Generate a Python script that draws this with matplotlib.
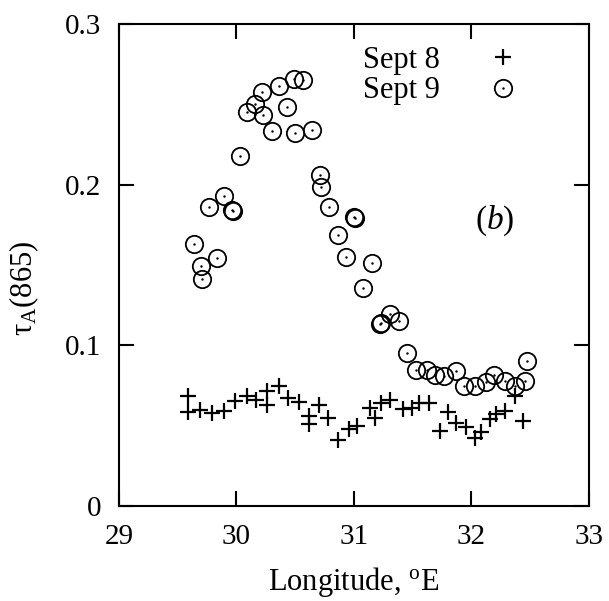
import matplotlib
matplotlib.use('Agg')
import matplotlib.pyplot as plt
from matplotlib.legend_handler import HandlerTuple

plt.rcParams['font.family'] = ['Liberation Serif', 'DejaVu Serif']
plt.rcParams['mathtext.fontset'] = 'custom'
plt.rcParams['mathtext.rm'] = 'Liberation Serif'
plt.rcParams['mathtext.it'] = 'Liberation Serif:italic'

# Sept 8 (crosses)
lon8 = [29.59, 29.59, 29.69, 29.79, 29.89, 29.99, 30.09, 30.17, 30.26, 30.26,
        30.36, 30.44, 30.53, 30.62, 30.62, 30.70, 30.78, 30.86, 30.96, 31.03,
        31.14, 31.18, 31.23, 31.31, 31.42, 31.49, 31.55, 31.64, 31.73, 31.80,
        31.87, 31.95, 32.03, 32.08, 32.16, 32.21, 32.29, 32.37, 32.44]
tau8 = [0.0686, 0.0586, 0.0598, 0.0579, 0.0592, 0.0654, 0.0681, 0.0661, 0.0717, 0.0629,
        0.0744, 0.0669, 0.0645, 0.0561, 0.0511, 0.0629, 0.0546, 0.0408, 0.0479, 0.0498,
        0.0609, 0.0546, 0.0640, 0.0661, 0.0604, 0.0611, 0.0640, 0.0640, 0.0463, 0.0586,
        0.0515, 0.0489, 0.0421, 0.0461, 0.0542, 0.0573, 0.0588, 0.0681, 0.0525]

# Sept 9 (circles)
lon9 = [30.49, 30.57, 30.36, 30.22, 30.16, 30.09, 30.23, 30.43, 30.30, 30.50,
        30.64, 30.03, 30.71, 30.72, 29.89, 29.77, 29.96, 29.97, 30.79, 31.00,
        31.005, 30.86, 29.64, 30.93, 29.83, 31.15, 29.70, 29.71, 31.08, 31.31,
        31.23, 31.225, 31.38, 31.45, 32.47, 31.53, 31.62, 31.69, 31.77, 31.87,
        31.94, 32.03, 32.12, 32.19, 32.29, 32.37, 32.46]
tau9 = [0.2660, 0.2650, 0.2615, 0.2578, 0.2504, 0.2453, 0.2431, 0.2481, 0.2331, 0.2321,
        0.2342, 0.2175, 0.2061, 0.1988, 0.1931, 0.1859, 0.1844, 0.1838, 0.1863, 0.1796,
        0.1790, 0.1686, 0.1629, 0.1546, 0.1542, 0.1509, 0.1492, 0.1411, 0.1354, 0.1194,
        0.1140, 0.1134, 0.1153, 0.0950, 0.0900, 0.0848, 0.0848, 0.0817, 0.0806, 0.0838,
        0.0744, 0.0748, 0.0771, 0.0811, 0.0779, 0.0748, 0.0775]

fig = plt.figure(figsize=(6.09, 6.01), dpi=100)
ax = fig.add_axes([0.1954, 0.1586, 0.7716, 0.8014])

h8, = ax.plot(lon8, tau8, '+', color='black', markersize=11, markeredgewidth=1.6)
h9, = ax.plot(lon9, tau9, 'o', color='black', markerfacecolor='none',
              markersize=12.5, markeredgewidth=1.3)
hd, = ax.plot(lon9, tau9, '.', color='black', markersize=1.5)

ax.set_xlim(29, 33)
ax.set_ylim(0, 0.3)
ax.set_xticks([29, 30, 31, 32, 33])
ax.set_yticks([0, 0.1, 0.2, 0.3])
ax.set_yticklabels(['0', '0.1', '0.2', '0.3'])
ax.tick_params(direction='in', length=11, width=1.5, labelsize=21,
               top=True, right=True)
ax.tick_params(axis='x', pad=13)
ax.tick_params(axis='y', pad=13)
for s in ax.spines.values():
    s.set_linewidth(1.5)

ax.set_xlabel(r'Longitude, $\mathregular{^o}$E', fontsize=22, labelpad=11)
ax.set_ylabel(r'$\mathregular{\tau_A}$(865)', fontsize=22)
ax.yaxis.set_label_coords(-0.165, 0.452)

ax.text(32.2, 0.1775, r'($b$)', fontsize=24, ha='center', va='center')

ax.legend([h8, (h9, hd)], ['Sept 8', 'Sept 9'], loc='upper left',
          bbox_to_anchor=(0.52, 0.955), frameon=False, markerfirst=False,
          fontsize=22, handlelength=2, handletextpad=1.05, labelspacing=0.05,
          borderpad=0, borderaxespad=0,
          handler_map={tuple: HandlerTuple(ndivide=1)})

fig.savefig('out.png', dpi=100)
